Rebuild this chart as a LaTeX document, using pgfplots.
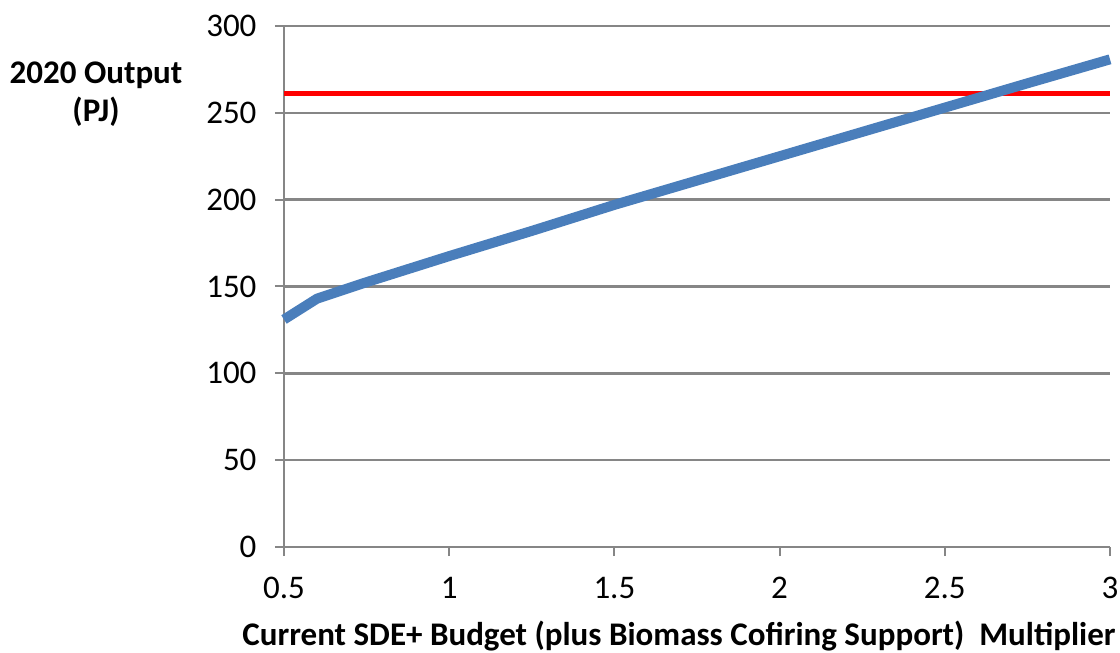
\documentclass[border=0pt]{standalone}
\usepackage{pgfplots}
\pgfplotsset{compat=1.18}
\usepackage{fontspec}
\setmainfont{Carlito}
\definecolor{gridgray}{RGB}{134,134,134}
\definecolor{lineblue}{RGB}{74,126,187}
\begin{document}
\begin{tikzpicture}
\begin{axis}[
  at={(0pt,0pt)}, anchor=south west,
  width=826pt, height=521pt, scale only axis,
  xmin=0.5, xmax=3, ymin=0, ymax=300,
  xtick={0.5,1,1.5,2,2.5,3},
  xticklabels={0.5,1,1.5,2,2.5,3},
  ytick={0,50,100,150,200,250,300},
  axis x line*=bottom, axis y line*=left,
  axis line style={gridgray, line width=2.5pt, -},
  ymajorgrids, major grid style={gridgray, line width=2.5pt},
  tick style={gridgray, line width=2pt},
  tick align=outside, major tick length=9pt,
  ticklabel style={font=\fontsize{33}{40}\selectfont},
  /pgf/number format/assume math mode=true,
  yticklabel style={xshift=-15pt},
  xticklabel style={yshift=-18pt},
  clip=false,
]
\addplot[color=red, line width=5pt] coordinates {(0.5,261) (3,261)};
\addplot[color=lineblue, line width=10pt, line join=round] coordinates {
(0.5,131) (0.6,143) (0.75,152.5) (1,167.5) (1.25,182) (1.5,197) (1.75,211) (2,225) (2.25,239) (2.5,253) (2.75,267) (3,280.8)};
\end{axis}
\node[font=\fontsize{33}{38}\selectfont\bfseries, align=center] at (-188pt,453pt) {2020 Output\\(PJ)};
\node[font=\fontsize{33}{38}\selectfont\bfseries, anchor=east] at (835pt,-89pt) {Current SDE+ Budget (plus Biomass Cofiring Support)~~Multiplier};
\pgfresetboundingbox
\path[use as bounding box] (-284pt,-106pt) rectangle (836pt,547pt);
\end{tikzpicture}
\end{document}
